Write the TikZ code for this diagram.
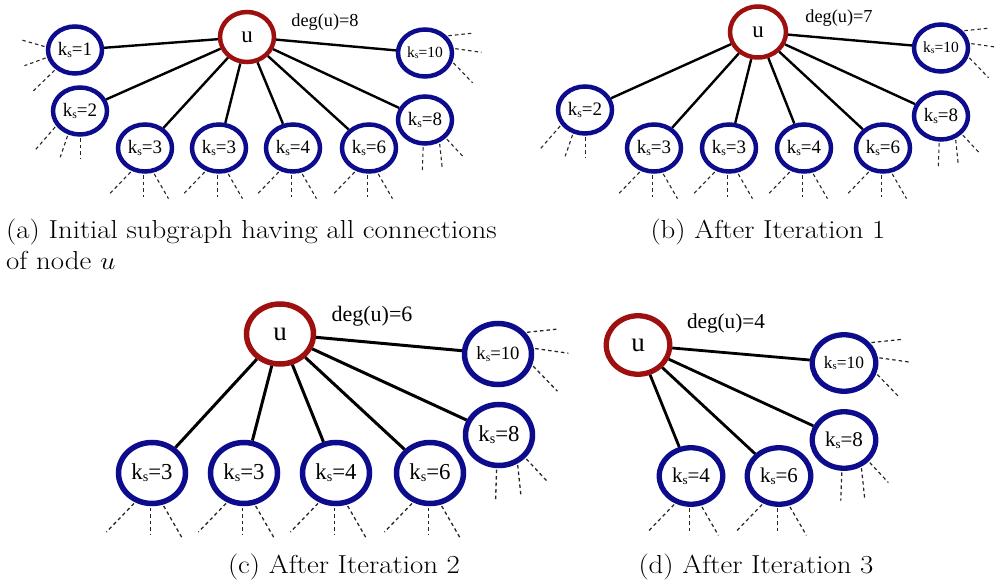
\documentclass[tikz,border=0pt]{standalone}
\usepackage{fontspec}
\usepackage{graphicx}
\usetikzlibrary{shapes.geometric}
\newfontfamily\labelfont{Liberation Serif}
\definecolor{kblue}{RGB}{12,12,140}
\definecolor{kred}{RGB}{158,16,16}
% core-number label k_s = value
\newcommand{\kslabel}[1]{k\raisebox{-0.08em}{\scalebox{0.62}{s}}=#1}
% caption text, slightly widened
\newcommand{\captext}[1]{\scalebox{1.11}[1]{#1}}
% three dashed stubs leaving a node: list of start-angle/direction/length, scale, width
\newcommand{\stubs}[4]{%
  \foreach \stA/\dirA/\lenA in #2 {%
    \draw[stub, line width=#4] (#1.\stA) -- ++(\dirA:{#3*\lenA*1pt});%
  }%
}
\newcommand{\stubBottom}{240/226/33, 267/270/23, 289/300/30}
\newcommand{\stubEight}{266/268/26, 303/276/27, 319/313/25}
\newcommand{\stubTen}{38/6/27, 9/352/28, 342/314/29}
\newcommand{\stubOne}{174/164/26, 195/200/24, 225/224/32}
\newcommand{\stubTwo}{212/229/32, 243/251/24, 272/270/22}
\tikzset{
  knode/.style={ellipse, draw=kblue, inner sep=0pt},
  unode/.style={ellipse, draw=kred, inner sep=0pt},
  stub/.style={draw=black!85, dash pattern=on 3.5pt off 3pt, shorten <=1.5pt},
  fsz/.style={font=\labelfont\fontsize{#1}{#1}\selectfont},
  % panels (a) and (b)
  kA/.style={knode, minimum width=54pt, minimum height=47pt, line width=4.5pt, fsz=19},
  tenA/.style={kA, fsz=15.5},
  uA/.style={unode, minimum width=54pt, minimum height=50pt, line width=4.5pt, fsz=23},
  uB/.style={uA, minimum width=56pt, minimum height=51pt},
  degA/.style={inner sep=0pt, fsz=18.3},
  edgeA/.style={draw=black, line width=2.4pt},
  % panel (c)
  kC/.style={knode, minimum width=67pt, minimum height=61pt, line width=5.5pt, fsz=22.8},
  tenC/.style={kC, fsz=18.7},
  uC/.style={unode, minimum width=67pt, minimum height=60pt, line width=5.5pt, fsz=27},
  degC/.style={inner sep=0pt, fsz=22},
  edgeC/.style={draw=black, line width=3pt},
  % panel (d)
  kD/.style={knode, minimum width=63.5pt, minimum height=56.5pt, line width=5.3pt, fsz=21},
  tenD/.style={kD, fsz=17.4},
  uD/.style={unode, minimum width=63.5pt, minimum height=58.5pt, line width=5.3pt, fsz=27},
  degD/.style={inner sep=0pt, fsz=21.2},
  edgeD/.style={draw=black, line width=2.8pt},
  caption/.style={inner sep=0pt, font=\fontsize{26}{31}\selectfont},
}
\begin{document}
\begin{tikzpicture}[x=1pt,y=1pt]
\clip (0,0) rectangle (994,584);

% ---------- (a) initial subgraph ----------
\node[uA] (ua) at (247,547) {u};
\node[kA] (a1) at (75,534) {\kslabel{1}};
\node[kA] (a2) at (80,473) {\kslabel{2}};
\node[kA] (a3) at (145,436) {\kslabel{3}};
\node[kA] (a4) at (219,436) {\kslabel{3}};
\node[kA] (a5) at (293,436) {\kslabel{4}};
\node[kA] (a6) at (369,436) {\kslabel{6}};
\node[kA] (a8) at (425,464) {\kslabel{8}};
\node[tenA] (a10) at (425,531) {\kslabel{10}};
\node[degA] (dega) at (325,562) {deg(u)=8};
\foreach \tgt in {a1,a2,a3,a4,a5,a6,a8,a10} \draw[edgeA] (ua) -- (\tgt);
\stubs{a1}{\stubOne}{1}{1.1pt}
\stubs{a2}{\stubTwo}{1}{1.1pt}
\foreach \tgt in {a3,a4,a5,a6} {\stubs{\tgt}{\stubBottom}{1}{1.1pt}}
\stubs{a8}{\stubEight}{1}{1.1pt}
\stubs{a10}{\stubTen}{1}{1.1pt}

% ---------- (b) after iteration 1 ----------
\node[uB] (ub) at (758,552) {u};
\node[kA] (b2) at (585,474) {\kslabel{2}};
\node[kA] (b3) at (654,436) {\kslabel{3}};
\node[kA] (b4) at (729,436) {\kslabel{3}};
\node[kA] (b5) at (804,436) {\kslabel{4}};
\node[kA] (b6) at (883,436) {\kslabel{6}};
\node[kA] (b8) at (941,468) {\kslabel{8}};
\node[tenA] (b10) at (941,536) {\kslabel{10}};
\node[degA] (degb) at (839,566) {deg(u)=7};
\foreach \tgt in {b2,b3,b4,b5,b6,b8,b10} \draw[edgeA] (ub) -- (\tgt);
\stubs{b2}{\stubTwo}{1}{1.1pt}
\foreach \tgt in {b3,b4,b5,b6} {\stubs{\tgt}{\stubBottom}{1}{1.1pt}}
\stubs{b8}{\stubEight}{1}{1.1pt}
\stubs{b10}{\stubTen}{1}{1.1pt}

% ---------- (c) after iteration 2 ----------
\node[uC] (uc) at (280,250) {u};
\node[kC] (c3) at (152,111) {\kslabel{3}};
\node[kC] (c4) at (244,111) {\kslabel{3}};
\node[kC] (c5) at (336,111) {\kslabel{4}};
\node[kC] (c6) at (430,111) {\kslabel{6}};
\node[kC] (c8) at (499,149) {\kslabel{8}};
\node[tenC] (c10) at (498,230) {\kslabel{10}};
\node[degC] (degc) at (372,268) {deg(u)=6};
\foreach \tgt in {c3,c4,c5,c6,c8,c10} \draw[edgeC] (uc) -- (\tgt);
\foreach \tgt in {c3,c4,c5,c6} {\stubs{\tgt}{\stubBottom}{1.25}{1.3pt}}
\stubs{c8}{\stubEight}{1.25}{1.3pt}
\stubs{c10}{\stubTen}{1.25}{1.3pt}

% ---------- (d) after iteration 3 ----------
\node[uD] (ud) at (638,239) {u};
\node[kD] (d4) at (691,108) {\kslabel{4}};
\node[kD] (d6) at (779,108) {\kslabel{6}};
\node[kD] (d8) at (844,144) {\kslabel{8}};
\node[tenD] (d10) at (844,221) {\kslabel{10}};
\node[degD] (degd) at (726,261) {deg(u)=4};
\foreach \tgt in {d4,d6,d8,d10} \draw[edgeD] (ud) -- (\tgt);
\foreach \tgt in {d4,d6} {\stubs{\tgt}{\stubBottom}{1.15}{1.2pt}}
\stubs{d8}{\stubEight}{1.15}{1.2pt}
\stubs{d10}{\stubTen}{1.15}{1.2pt}

% ---------- captions ----------
\node[caption, anchor=base west] (capa1) at (6,345) {\captext{(a) Initial subgraph having all connections}};
\node[caption, anchor=base west] (capa2) at (6,314) {\captext{of node $u$}};
\node[caption, anchor=base] (capb) at (768,345) {\captext{(b) After Iteration 1}};
\node[caption, anchor=base] (capc) at (344,10) {\captext{(c) After Iteration 2}};
\node[caption, anchor=base] (capd) at (756,10) {\captext{(d) After Iteration 3}};
\end{tikzpicture}
\end{document}
